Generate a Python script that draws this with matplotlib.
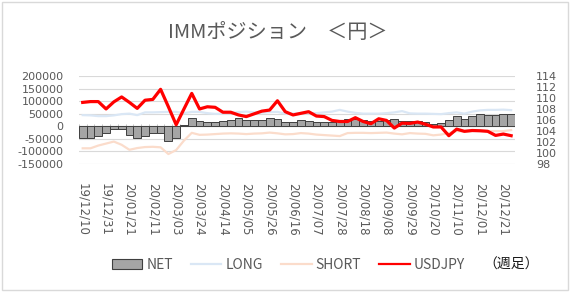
import matplotlib
matplotlib.use("Agg")
import matplotlib.pyplot as plt
import numpy as np
from matplotlib.patches import Rectangle, Patch
from matplotlib.lines import Line2D

plt.rcParams['font.family'] = ['Noto Sans CJK JP', 'DejaVu Sans']

categories = [
    "19/12/10", "19/12/17", "19/12/24", "19/12/31", "20/01/07", "20/01/14", "20/01/21",
    "20/01/28", "20/02/04", "20/02/11", "20/02/18", "20/02/25", "20/03/03", "20/03/10",
    "20/03/17", "20/03/24", "20/03/31", "20/04/07", "20/04/14", "20/04/21", "20/04/28",
    "20/05/05", "20/05/12", "20/05/19", "20/05/26", "20/06/02", "20/06/09", "20/06/16",
    "20/06/23", "20/06/30", "20/07/07", "20/07/14", "20/07/21", "20/07/28", "20/08/04",
    "20/08/11", "20/08/18", "20/08/25", "20/09/01", "20/09/08", "20/09/15", "20/09/22",
    "20/09/29", "20/10/06", "20/10/13", "20/10/20", "20/10/27", "20/11/03", "20/11/10",
    "20/11/17", "20/11/24", "20/12/01", "20/12/08", "20/12/15", "20/12/21", "20/12/29",
]

net = [
    -46000, -46000, -38000, -29000, -10000, -10000, -37000, -46000, -38000, -27000,
    -28000, -58000, -46000, 6000, 31000, 22000, 16000, 17000, 20000, 23000,
    31000, 25000, 24000, 25000, 34000, 30000, 16000, 18000, 24000, 22000,
    15000, 15000, 15000, 24000, 28000, 27000, 24000, 20000, 20000, 25000,
    27000, 22000, 20000, 19000, 17000, 10000, 14000, 24000, 40000, 28000,
    40000, 47000, 46000, 44000, 47000, 47000,
]

long_pos = [
    44000, 43000, 40000, 40000, 43000, 48000, 50000, 44000, 55000, 55000,
    56000, 57000, 57000, 52000, 57000, 57000, 52000, 49000, 50000, 52000,
    56000, 58000, 55000, 54000, 56000, 57000, 50000, 50000, 52000, 52000,
    52000, 55000, 58000, 65000, 58000, 53000, 50000, 50000, 50000, 52000,
    55000, 60000, 51000, 50000, 50000, 49000, 48000, 52000, 55000, 50000,
    58000, 63000, 65000, 65000, 66000, 64000,
]

short_pos = [
    -89000, -89000, -78000, -70000, -62000, -75000, -95000, -88000, -84000, -83000,
    -85000, -112000, -96000, -58000, -27000, -35000, -34000, -32000, -30000, -29000,
    -30000, -32000, -30000, -29000, -26000, -29000, -33000, -32000, -28000, -30000,
    -34000, -36000, -38000, -40000, -28000, -27000, -27000, -28000, -27000, -26000,
    -30000, -33000, -28000, -30000, -31000, -37000, -34000, -28000, -20000, -22000,
    -20000, -18000, -20000, -20000, -20000, -16000,
]

usdjpy = [
    109.2, 109.35, 109.35, 108.0, 109.3, 110.2, 109.2, 108.1, 109.6, 109.75,
    111.6, 108.4, 105.1, 108.0, 110.85, 108.0, 108.4, 108.3, 107.4, 107.4,
    106.9, 106.6, 107.1, 107.6, 107.8, 109.5, 107.5, 106.9, 107.2, 107.5,
    106.7, 106.6, 105.9, 105.7, 105.7, 106.4, 105.7, 105.3, 106.2, 105.9,
    104.5, 105.4, 105.35, 105.6, 105.2, 104.7, 104.7, 103.1, 104.3, 103.9,
    104.05, 104.0, 103.9, 103.15, 103.4, 103.1,
]

left_ticks = [200000, 150000, 100000, 50000, 0, -50000, -100000, -150000]
right_ticks = [114, 112, 110, 108, 106, 104, 102, 100, 98]
label_every = 3

TXT = '#595959'
GRID = '#D9D9D9'
NUMFONT = 'DejaVu Sans'

fig = plt.figure(figsize=(5.71, 2.92), dpi=100)
fig.patch.set_facecolor('white')
fig.add_artist(Rectangle((0.004, 0.007), 0.99, 0.986, transform=fig.transFigure,
                         fill=False, edgecolor='#D9D9D9', linewidth=1.0))

ax = fig.add_axes([0.138, 0.44, 0.764, 0.299])
x = np.arange(len(categories))

ax.set_ylim(min(left_ticks), max(left_ticks))
ax.set_xlim(-0.5, len(categories) - 0.5)
ax.set_yticks(left_ticks)
ax.set_yticklabels([str(v) for v in left_ticks], family=NUMFONT, fontsize=8, color=TXT)
for v in left_ticks:
    if v != 0:
        ax.axhline(v, color=GRID, linewidth=0.8, zorder=0)
ax.axhline(0, color='#BFBFBF', linewidth=0.9, zorder=1)
ax.vlines(np.arange(len(categories) + 1) - 0.5, 0, 9000, color='#BFBFBF', linewidth=0.7, zorder=1)

ax.bar(x, net, width=1.0, color='#A5A5A5', edgecolor='#3F3F3F', linewidth=0.7, zorder=2)
ax.plot(x, long_pos, color='#DAE7F5', linewidth=1.6, zorder=3)
ax.plot(x, short_pos, color='#FBDCCB', linewidth=1.6, zorder=3)

for s in ax.spines.values():
    s.set_visible(False)
ax.tick_params(axis='y', length=0, pad=11)
ax.set_xticks(x[::label_every])
ax.set_xticklabels(categories[::label_every], rotation=-90, family=NUMFONT, fontsize=8.5, color=TXT)
ax.tick_params(axis='x', length=0, pad=14)

ax2 = ax.twinx()
ax2.set_ylim(min(right_ticks), max(right_ticks))
ax2.set_yticks(right_ticks)
ax2.set_yticklabels([str(v) for v in right_ticks], family=NUMFONT, fontsize=8, color=TXT)
ax2.plot(x, usdjpy, color='#FF0000', linewidth=2.3, zorder=5)
for s in ax2.spines.values():
    s.set_visible(False)
ax2.tick_params(axis='y', length=0, pad=15)

fig.text(0.487, 0.888, 'IMMポジション　＜円＞', ha='center', va='center', fontsize=14.5, color=TXT)

handles = [
    Patch(facecolor='#A5A5A5', edgecolor='#3F3F3F', linewidth=0.8),
    Line2D([], [], color='#DAE7F5', linewidth=1.6),
    Line2D([], [], color='#FBDCCB', linewidth=1.6),
    Line2D([], [], color='#FF0000', linewidth=1.6),
]
fig.legend(handles, ['NET', 'LONG', 'SHORT', 'USDJPY'], loc='center', ncol=4,
           bbox_to_anchor=(0.505, 0.092), frameon=False, fontsize=10,
           handlelength=2.2, handletextpad=0.3, columnspacing=1.3, labelcolor=TXT)
fig.text(0.895, 0.092, '（週足）', ha='center', va='center', fontsize=10, color='#1A1A1A')

fig.savefig('out.png', dpi=100)
